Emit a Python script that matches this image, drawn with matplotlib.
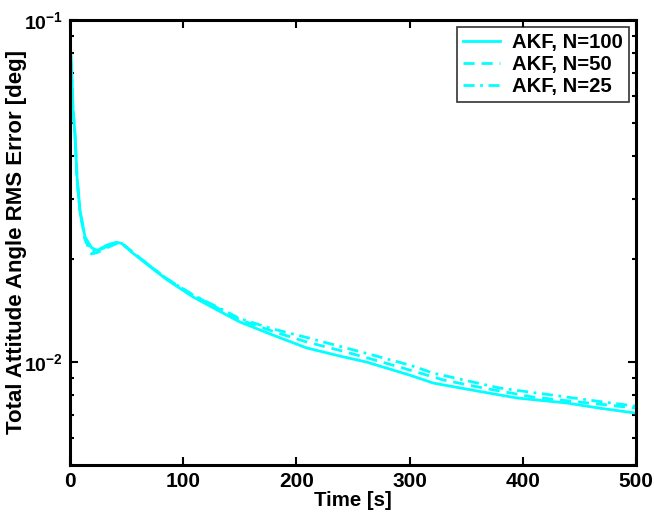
import matplotlib
matplotlib.use("Agg")
import matplotlib.pyplot as plt
from matplotlib.ticker import LogLocator, NullFormatter, FixedLocator

plt.rcParams["font.family"] = ["Liberation Sans", "DejaVu Sans"]
plt.rcParams["font.weight"] = "bold"
plt.rcParams["mathtext.fontset"] = "custom"
plt.rcParams["mathtext.rm"] = "Liberation Sans:bold"
plt.rcParams["mathtext.bf"] = "Liberation Sans:bold"
plt.rcParams["mathtext.default"] = "bf"

# RMS error curves
t_n100 = [0, 1.5, 2.7, 4.4, 6.2, 8.8, 13.3, 19, 24, 33, 41, 46, 55.7, 70.7, 85.7,
          108.7, 130, 150, 179, 209, 239, 262, 300, 321, 365, 395, 439, 468, 500]
err_n100 = [0.0890, 0.0700, 0.0546, 0.0467, 0.0348, 0.0278, 0.0232, 0.0216, 0.0212,
            0.0220, 0.0224, 0.0222, 0.0208, 0.0190, 0.0174, 0.0155, 0.0142, 0.0131,
            0.0120, 0.0110, 0.0104, 0.0100, 0.00916, 0.00868, 0.00817, 0.00785,
            0.00759, 0.00733, 0.00709]

t_n50 = [0, 1.5, 2.7, 4.4, 6.2, 8.8, 13.3, 19, 24, 33, 41, 46, 55.7, 70.7, 85.7,
         108.7, 130, 150, 179, 209, 239, 262, 300, 330, 365, 409, 440, 470, 500]
err_n50 = [0.0885, 0.0695, 0.0540, 0.0462, 0.0345, 0.0275, 0.0228, 0.0207, 0.0209,
           0.0216, 0.0222, 0.0222, 0.0209, 0.0191, 0.0175, 0.0157, 0.0144, 0.0133,
           0.0123, 0.01145, 0.0108, 0.0103, 0.00948, 0.00886, 0.00840, 0.00790,
           0.00770, 0.00752, 0.00733]

t_n25 = [0, 1.5, 2.7, 4.4, 6.2, 8.8, 13.3, 19, 24, 33, 41, 46, 55.7, 70.7, 85.7,
         108.7, 130, 150, 179, 209, 239, 262, 300, 321, 380, 439, 470, 500]
err_n25 = [0.0888, 0.0698, 0.0543, 0.0465, 0.0347, 0.0276, 0.0230, 0.0211, 0.0211,
           0.0218, 0.0223, 0.0222, 0.0209, 0.0191, 0.0175, 0.0157, 0.0145, 0.0134,
           0.0125, 0.0118, 0.0111, 0.0106, 0.00980, 0.00928, 0.00839, 0.00790,
           0.00765, 0.00743]

labels = ["AKF, N=100", "AKF, N=50", "AKF, N=25"]
x_ticks = [0, 100, 200, 300, 400, 500]

fig = plt.figure(figsize=(6.54, 5.19), dpi=100)
ax = fig.add_axes([0.107, 0.104, 0.8655, 0.8575])

ax.semilogy(t_n100, err_n100, color="cyan", linestyle="-", linewidth=2.0, label=labels[0])
ax.semilogy(t_n50, err_n50, color="cyan", linestyle=(0, (4, 2.5)), linewidth=2.0, label=labels[1])
ax.semilogy(t_n25, err_n25, color="cyan", linestyle=(0, (4, 2, 1, 2)), linewidth=2.0, label=labels[2])

ax.set_xlim(0, 500)
ax.set_ylim(0.005, 0.1)
ax.xaxis.set_major_locator(FixedLocator(x_ticks))
ax.yaxis.set_major_locator(LogLocator(base=10))
ax.yaxis.set_minor_locator(LogLocator(base=10, subs=range(2, 10)))
ax.yaxis.set_minor_formatter(NullFormatter())

ax.tick_params(which="both", direction="in", top=True, right=True, width=1.5, labelsize=15)
ax.tick_params(axis="y", labelsize=14)
ax.tick_params(which="major", length=6, pad=5)
ax.tick_params(which="minor", length=3)
for s in ax.spines.values():
    s.set_linewidth(2.2)

ax.set_xlabel("Time [s]", fontsize=14.7, fontweight="bold", labelpad=0)
fig.text(17 / 654, 1 - 242 / 519, "Total Attitude Angle RMS Error [deg]", rotation=90,
         ha="center", va="center", fontsize=16, fontweight="bold")

leg = ax.legend(loc="upper right", fontsize=14.6, frameon=True, fancybox=False,
                edgecolor="black", handlelength=1.8, handletextpad=0.6,
                borderaxespad=0.35, labelspacing=0.15, borderpad=0.3)
leg.get_frame().set_linewidth(1.2)

fig.savefig("out.png", dpi=100)
